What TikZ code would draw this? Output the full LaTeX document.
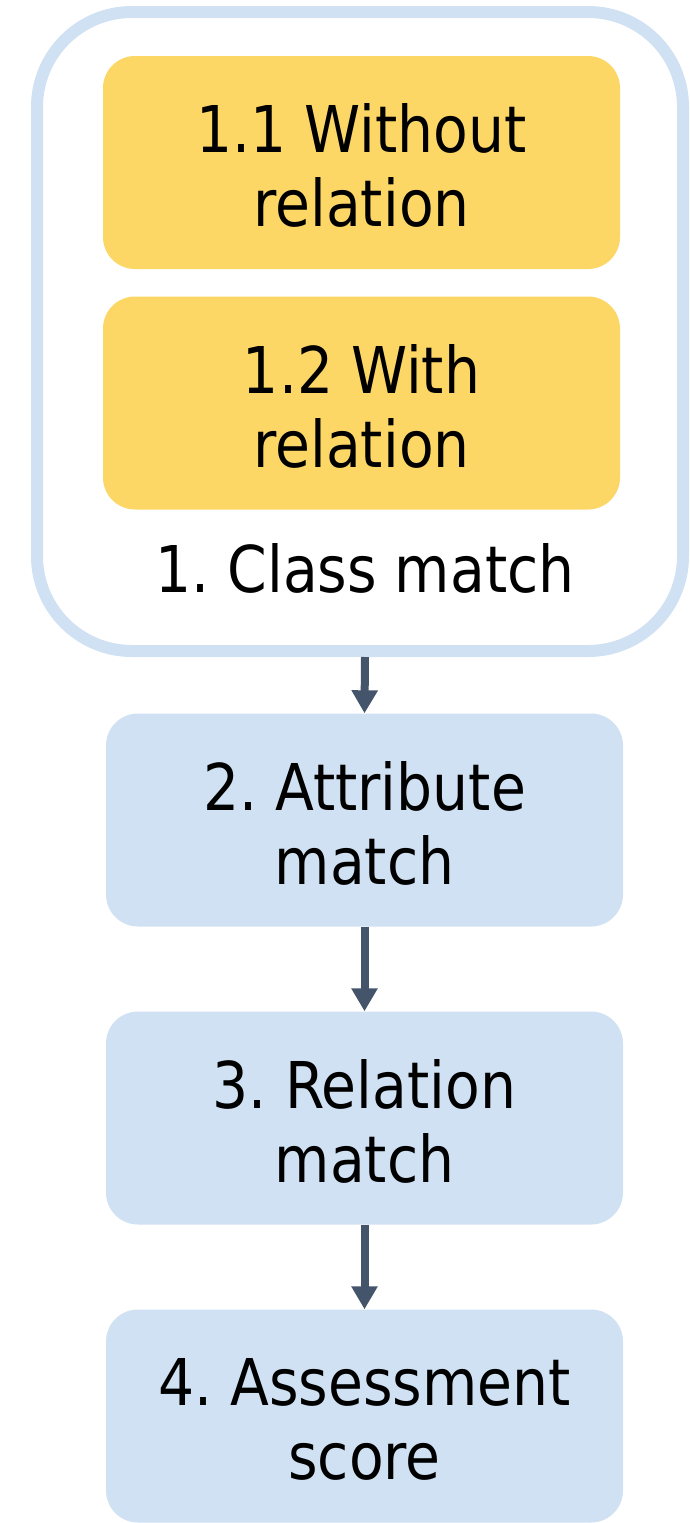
\documentclass[tikz,border=0pt]{standalone}
\usepackage{fontspec}
\setmainfont{DejaVu Sans}[FakeStretch=0.88]
\usetikzlibrary{arrows.meta}
\frenchspacing
\definecolor{stepyellow}{HTML}{FDD766}
\definecolor{stepblue}{HTML}{CFE1F2}
\definecolor{arrowslate}{HTML}{44546A}
\tikzset{
  stagebox/.style={rounded corners=32pt, minimum width=517pt, minimum height=213pt,
    inner sep=0pt},
  subbox/.style={stagebox, fill=stepyellow},
  mainbox/.style={stagebox, fill=stepblue},
  steptext/.style={inner sep=0pt, align=center, text=black,
    font=\fontsize{64.5}{74}\selectfont},
  flow/.style={arrowslate, line width=8pt, -{Triangle[width=25pt,length=23pt]}},
}
\begin{document}
\begin{tikzpicture}[x=1pt,y=-1pt]
  \useasboundingbox (0,0) rectangle (690,1523);
  % group frame around the class-matching sub-steps
  \draw[stepblue, line width=12pt, rounded corners=95pt] (37,12) rectangle (683,651);
  \node[subbox] (s11) at (361.5,162.5) {};
  \node[subbox] (s12) at (361.5,403) {};
  \node[steptext] (cls) at (365,568) {1. Class match};
  \coordinate (grp) at (365,657);
  % main pipeline
  \node[mainbox] (s2) at (364.5,820) {};
  \node[mainbox] (s3) at (364.5,1118) {};
  \node[mainbox] (s4) at (364.5,1416) {};
  % box labels
  \node[steptext] (t11) at ([yshift=-3pt]s11.center) {1.1 Without\\relation};
  \node[steptext] (t12) at ([yshift=-3pt]s12.center) {1.2 With\\relation};
  \node[steptext] (t2) at ([yshift=-3pt]s2.center) {2. Attribute\\match};
  \node[steptext] (t3) at ([yshift=-3pt]s3.center) {3. Relation\\match};
  \node[steptext] (t4) at ([yshift=-3pt]s4.center) {4. Assessment\\score};
  \draw[flow] (grp) -- (s2.north);
  \draw[flow] (s2.south) -- (s3.north);
  \draw[flow] (s3.south) -- (s4.north);
\end{tikzpicture}
\end{document}
